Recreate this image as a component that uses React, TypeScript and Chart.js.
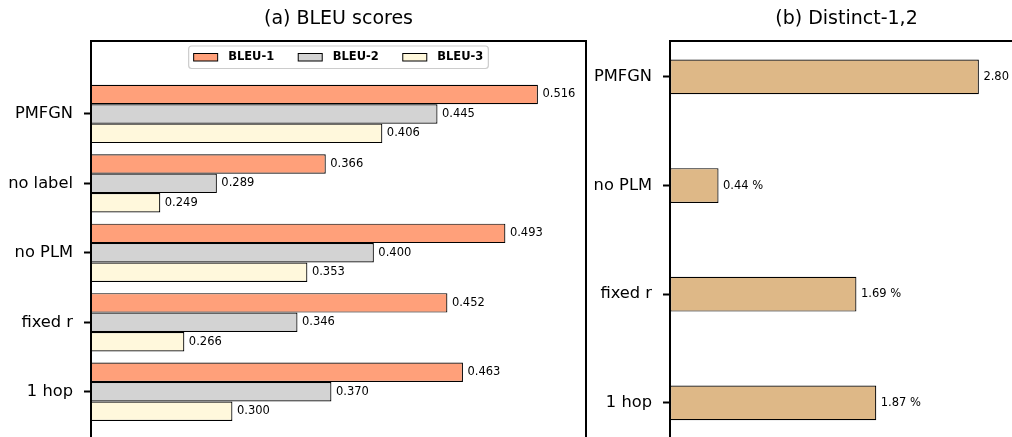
import React, { useEffect, useRef } from 'react';
import { Chart, registerables } from 'chart.js';

Chart.register(...registerables);

// ---------------- data ----------------
const bleuCategories = ['PMFGN', 'no label', 'no PLM', 'fixed r', '1 hop'];
const bleuSeriesNames = ['BLEU-1', 'BLEU-2', 'BLEU-3'];
const bleu1 = [0.516, 0.366, 0.493, 0.452, 0.463];
const bleu2 = [0.445, 0.289, 0.4, 0.346, 0.37];
const bleu3 = [0.406, 0.249, 0.353, 0.266, 0.3];

const distinctCategories = ['PMFGN', 'no PLM', 'fixed r', '1 hop'];
const distinctValues = [2.8, 0.44, 1.69, 1.87];

const titleA = '(a) BLEU scores';
const titleB = '(b) Distinct-1,2';

// ---------------- styles ----------------
const FONT = "'DejaVu Sans'";
const bleuColors = ['#FFA07A', '#D3D3D3', '#FFF8DC'];
const distinctColor = '#DEB887';

const framePlugin = {
  id: 'frame',
  afterDatasetsDraw(chart: any) {
    const { ctx, chartArea } = chart;
    ctx.save();
    ctx.strokeStyle = '#000';
    ctx.lineWidth = 2;
    ctx.strokeRect(chartArea.left, chartArea.top, chartArea.right - chartArea.left, chartArea.bottom - chartArea.top);
    ctx.restore();
  },
};

const makeTitlePlugin = (text: string) => ({
  id: 'panelTitle',
  afterDraw(chart: any) {
    const { ctx, chartArea } = chart;
    ctx.save();
    ctx.font = `19px ${FONT}`;
    ctx.fillStyle = '#000';
    ctx.textAlign = 'center';
    ctx.textBaseline = 'alphabetic';
    ctx.fillText(text, (chartArea.left + chartArea.right) / 2, 24);
    ctx.restore();
  },
});

const makeValueLabelPlugin = (fmt: (v: number) => string) => ({
  id: 'valueLabels',
  afterDraw(chart: any) {
    const { ctx } = chart;
    ctx.save();
    ctx.font = `11.5px ${FONT}`;
    ctx.fillStyle = '#000';
    ctx.textAlign = 'left';
    ctx.textBaseline = 'middle';
    chart.data.datasets.forEach((ds: any, di: number) => {
      const meta = chart.getDatasetMeta(di);
      meta.data.forEach((el: any, i: number) => {
        const v = ds.data[i].x;
        ctx.fillText(fmt(v), el.x + 4.5, el.y);
      });
    });
    ctx.restore();
  },
});

const legendPlugin = {
  id: 'bleuLegend',
  afterDraw(chart: any) {
    const { ctx, chartArea } = chart;
    ctx.save();
    ctx.font = `bold 11.5px ${FONT}`;
    const patchW = 24;
    const patchH = 7.5;
    const gapText = 10.5;
    const colGap = 24;
    const padX = 5;
    const items = chart.data.datasets.map((ds: any) => ({
      label: ds.label,
      color: ds.backgroundColor,
      w: ctx.measureText(ds.label).width,
    }));
    const total =
      padX * 2 +
      items.reduce((s: number, it: any) => s + patchW + gapText + it.w, 0) +
      colGap * (items.length - 1);
    const cx = (chartArea.left + chartArea.right) / 2;
    const top = chartArea.top + 5;
    const h = 22.5;
    const left = cx - total / 2;
    ctx.beginPath();
    if (ctx.roundRect) ctx.roundRect(left, top, total, h, 3);
    else ctx.rect(left, top, total, h);
    ctx.fillStyle = 'rgba(255,255,255,0.8)';
    ctx.fill();
    ctx.strokeStyle = '#cccccc';
    ctx.lineWidth = 1.2;
    ctx.stroke();
    let x = left + padX;
    const cy = top + h / 2;
    items.forEach((it: any) => {
      ctx.fillStyle = it.color;
      ctx.fillRect(x, cy - patchH / 2, patchW, patchH);
      ctx.strokeStyle = '#000';
      ctx.lineWidth = 1;
      ctx.strokeRect(x, cy - patchH / 2, patchW, patchH);
      ctx.fillStyle = '#000';
      ctx.textAlign = 'left';
      ctx.textBaseline = 'middle';
      ctx.fillText(it.label, x + patchW + gapText, cy);
      x += patchW + gapText + it.w + colGap;
    });
    ctx.restore();
  },
};

const yAxis = (cats: string[], min: number, max: number, width: number) => ({
  type: 'linear',
  reverse: true,
  offset: false,
  min,
  max,
  afterBuildTicks: (s: any) => {
    s.ticks = cats.map((_, i) => ({ value: i }));
  },
  afterFit: (s: any) => {
    s.width = width;
  },
  ticks: {
    stepSize: 1,
    includeBounds: false,
    autoSkip: false,
    padding: 11,
    color: '#000',
    font: { family: FONT, size: 16.3 },
    callback: (v: any) => cats[v] ?? '',
  },
  grid: {
    display: true,
    offset: false,
    drawOnChartArea: false,
    drawTicks: true,
    tickLength: 7,
    tickWidth: 2,
    tickColor: '#000',
  },
  border: { display: false },
});

export default function App() {
  const leftRef = useRef<HTMLCanvasElement | null>(null);
  const rightRef = useRef<HTMLCanvasElement | null>(null);

  useEffect(() => {
    const series = [bleu1, bleu2, bleu3];
    const left = new Chart(leftRef.current as HTMLCanvasElement, {
      type: 'bar',
      data: {
        datasets: series.map((vals, si) => ({
          label: bleuSeriesNames[si],
          data: bleuCategories.map((_, i) => ({ x: vals[i], y: i })),
          backgroundColor: bleuColors[si],
          borderColor: '#000',
          borderWidth: 1.2,
          borderSkipped: false,
          categoryPercentage: 0.84,
          barPercentage: 1,
        })),
      },
      options: {
        indexAxis: 'y',
        animation: false,
        responsive: true,
        maintainAspectRatio: false,
        layout: { padding: { top: 41, right: 14, bottom: 12, left: 0 } },
        scales: {
          x: { type: 'linear', min: 0.2, max: 0.55, display: false },
          y: yAxis(bleuCategories, -1.05, 5.0, 91),
        } as any,
        plugins: {
          legend: { display: false },
          tooltip: { enabled: false },
          title: { display: false },
        },
      } as any,
      plugins: [framePlugin, makeTitlePlugin(titleA), makeValueLabelPlugin((v) => v.toFixed(3)), legendPlugin],
    } as any);

    const right = new Chart(rightRef.current as HTMLCanvasElement, {
      type: 'bar',
      data: {
        datasets: [
          {
            label: 'Distinct-1,2',
            data: distinctCategories.map((_, i) => ({ x: distinctValues[i], y: i })),
            backgroundColor: distinctColor,
            borderColor: '#000',
            borderWidth: 1.2,
            borderSkipped: false,
            categoryPercentage: 0.32,
            barPercentage: 1,
          },
        ],
      },
      options: {
        indexAxis: 'y',
        animation: false,
        responsive: true,
        maintainAspectRatio: false,
        layout: { padding: { top: 41, right: 17, bottom: 12, left: 0 } },
        scales: {
          x: { type: 'linear', min: 0, max: 3.2, display: false },
          y: yAxis(distinctCategories, -0.33, 3.5, 80),
        } as any,
        plugins: {
          legend: { display: false },
          tooltip: { enabled: false },
          title: { display: false },
        },
      } as any,
      plugins: [framePlugin, makeTitlePlugin(titleB), makeValueLabelPlugin((v) => `${v.toFixed(2)} %`)],
    } as any);

    return () => {
      left.destroy();
      right.destroy();
    };
  }, []);

  return (
    <div
      style={{
        position: 'fixed',
        left: 0,
        top: 0,
        width: 1012,
        height: 437,
        overflow: 'hidden',
        background: '#fff',
      }}
    >
      <div style={{ position: 'absolute', left: 0, top: 0, width: 600, height: 482 }}>
        <canvas ref={leftRef} />
      </div>
      <div style={{ position: 'absolute', left: 590, top: 0, width: 450, height: 478 }}>
        <canvas ref={rightRef} />
      </div>
    </div>
  );
}
